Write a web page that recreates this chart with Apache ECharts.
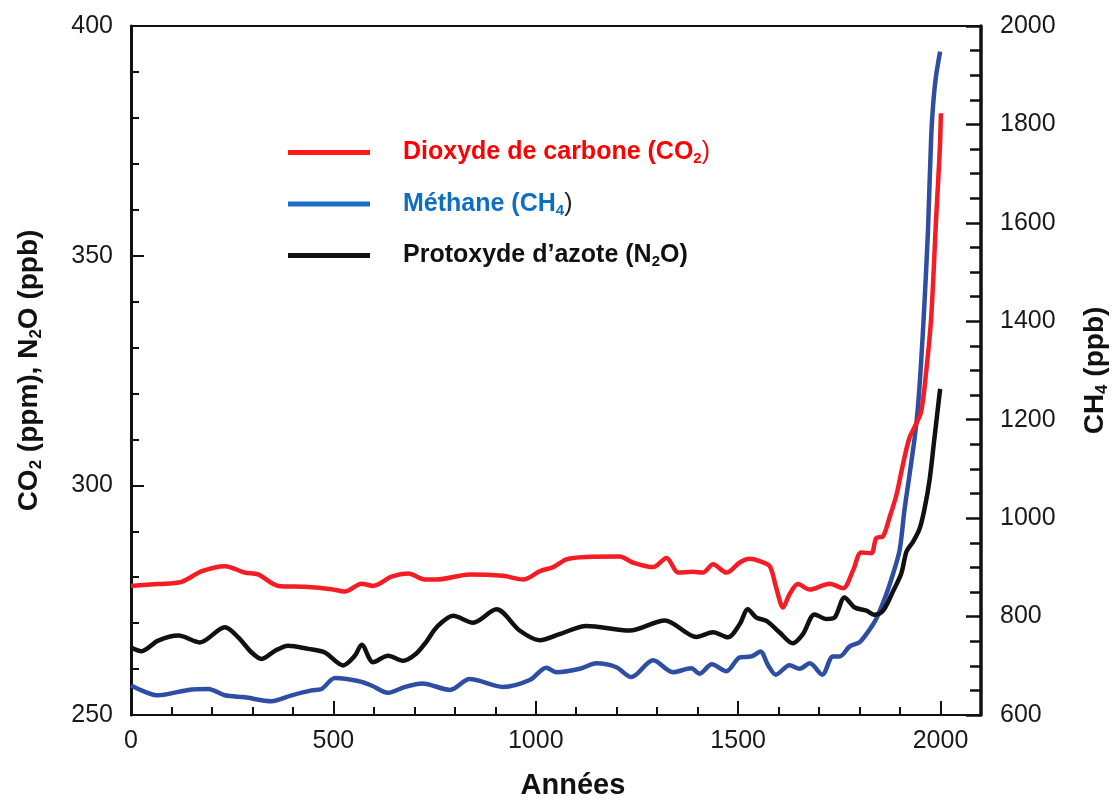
<!DOCTYPE html>
<html>
<head>
<meta charset="utf-8">
<script src="https://cdn.jsdelivr.net/npm/echarts@6/dist/echarts.min.js"></script>
<style>
  html, body { margin: 0; padding: 0; background: #fff; }
  #chart { width: 1119px; height: 805px; }
</style>
</head>
<body>
<div id="chart"></div>
<script>
// CO2 (ppm), left axis
var co2 = [[0,278.1],[67,278.5],[125,279.0],[175,281.3],[232,282.4],[281,281.0],[314,280.6],[364,278.1],[430,277.9],[495,277.4],[528,276.9],[570,278.6],[598,278.1],[644,280.1],[685,280.8],[726,279.5],[755,279.5],[837,280.6],[919,280.3],[969,279.5],[1010,281.3],[1043,282.2],[1076,283.9],[1125,284.4],[1207,284.5],[1240,283.2],[1290,282.2],[1323,284.2],[1352,281.0],[1388,281.2],[1413,281.0],[1438,282.8],[1471,281.0],[1504,283.2],[1528,284.0],[1553,283.5],[1578,282.4],[1594,277.7],[1611,273.4],[1627,276.3],[1648,278.5],[1677,277.3],[1726,278.6],[1759,277.6],[1784,281.5],[1804,285.4],[1829,285.2],[1841,288.5],[1858,288.9],[1874,293.0],[1891,297.9],[1907,304.5],[1923,310.3],[1936,312.7],[1952,316.0],[1965,325.1],[1977,336.6],[1989,357.9],[1998,372.7],[2001,381.0]];

// N2O (ppb), left axis
var n2o = [[0,264.7],[26,263.9],[67,266.2],[117,267.3],[170,265.8],[232,269.1],[265,266.9],[298,263.6],[323,262.2],[356,264.0],[388,265.1],[438,264.4],[479,263.6],[524,260.8],[553,262.9],[570,265.3],[598,261.5],[635,262.9],[672,261.8],[705,263.4],[730,266.0],[755,269.1],[796,271.6],[845,270.1],[903,273.0],[960,268.4],[1010,266.3],[1059,267.6],[1125,269.4],[1232,268.4],[1319,270.6],[1397,267.0],[1438,268.0],[1475,266.9],[1504,269.8],[1524,273.0],[1545,271.2],[1570,270.5],[1602,268.0],[1635,265.6],[1660,267.6],[1689,271.9],[1718,270.9],[1738,271.2],[1763,275.6],[1788,273.4],[1817,272.7],[1837,271.8],[1858,272.7],[1883,277.0],[1903,280.8],[1916,285.6],[1932,287.7],[1948,290.5],[1960,294.7],[1973,301.2],[1985,310.3],[1999,321.0]];

// CH4 (ppb), right axis
var ch4 = [[0,660],[35,647],[67,640],[117,647],[150,652],[191,653],[232,640],[281,636],[347,628],[397,640],[446,650],[471,653],[504,675],[561,669],[594,660],[635,645],[677,657],[720,664],[788,651],[837,673],[919,657],[985,671],[1026,696],[1051,687],[1109,694],[1150,705],[1199,697],[1236,677],[1290,711],[1339,687],[1384,695],[1405,684],[1435,703],[1471,689],[1504,717],[1533,719],[1555,729],[1574,701],[1593,682],[1627,701],[1652,694],[1677,705],[1708,682],[1734,719],[1751,719],[1775,739],[1800,748],[1820,768],[1841,795],[1865,843],[1882,885],[1899,935],[1911,1017],[1923,1086],[1936,1163],[1944,1224],[1952,1316],[1960,1432],[1969,1584],[1977,1776],[1983,1853],[1989,1899],[1999,1948]];

var seriesNames = ['Dioxyde de carbone (CO2)', 'Méthane (CH4)', "Protoxyde d'azote (N2O)"];
var legendLabels = [
  '{g| }{r|Dioxyde de carbone (CO}{rs|2}{rp|)}',
  '{g| }{b|Méthane (CH}{bs|4}{bp|)}',
  '{g| }{k|Protoxyde d\u2019azote (N}{ks|2}{k|O)}'
];

var myChart = echarts.init(document.getElementById('chart'));

var labelFont = { fontFamily: 'Liberation Sans', fontSize: 25, color: '#1a1a1a' };
var plain = function (v) { return String(v); };
var mainTxt = function (c) {
  return { fontFamily: 'Liberation Sans', fontWeight: 'bold', fontSize: 25, color: c, lineHeight: 28 };
};
var subTxt = function (c) {
  return { fontFamily: 'Liberation Sans', fontWeight: 'bold', fontSize: 15, color: c, lineHeight: 14, verticalAlign: 'bottom' };
};
var nameRich = {
  t: { fontFamily: 'Liberation Sans', fontWeight: 'bold', fontSize: 28, color: '#111', lineHeight: 32 },
  s: { fontFamily: 'Liberation Sans', fontWeight: 'bold', fontSize: 17, color: '#111', lineHeight: 16, verticalAlign: 'bottom' }
};

option = {
  animation: false,
  grid: {
    left: 131, right: 138, top: 26, bottom: 87,
    show: true, borderColor: '#111', borderWidth: 2
  },
  legend: {
    orient: 'vertical',
    left: 283,
    top: 135,
    itemWidth: 82,
    itemHeight: 5,
    itemGap: 25,
    icon: 'rect',
    selectedMode: false,
    data: [
      { name: seriesNames[0], itemStyle: { color: '#ff1a1a' } },
      { name: seriesNames[1], itemStyle: { color: '#1a6fc4' } },
      { name: seriesNames[2], itemStyle: { color: '#111111' } }
    ],
    formatter: function (name) {
      return legendLabels[seriesNames.indexOf(name)];
    },
    textStyle: {
      rich: {
        g: { width: 28 },
        r: mainTxt('#ff0000'), rs: subTxt('#ff0000'),
        rp: { fontFamily: 'Liberation Sans', fontSize: 25, color: '#e01010', lineHeight: 28 },
        b: mainTxt('#0e6fc2'), bs: subTxt('#0e6fc2'),
        bp: { fontFamily: 'Liberation Sans', fontSize: 25, color: '#222', lineHeight: 28 },
        k: mainTxt('#111'), ks: subTxt('#111')
      }
    }
  },
  xAxis: [{
    type: 'value',
    min: 0, max: 2100, interval: 500,
    name: 'Années',
    nameLocation: 'middle',
    nameGap: 56,
    nameTextStyle: { fontFamily: 'Liberation Sans', fontWeight: 'bold', fontSize: 29, color: '#111', padding: [0, 0, 0, 34] },
    axisLine: { show: true, lineStyle: { color: '#111', width: 2 } },
    axisTick: { show: true, inside: true, length: 14, lineStyle: { color: '#111', width: 2 } },
    axisLabel: Object.assign({ margin: 14, showMaxLabel: false, formatter: plain }, labelFont),
    splitLine: { show: false }
  }, {
    type: 'value',
    position: 'bottom',
    min: 0, max: 2100, interval: 100,
    axisLine: { show: false },
    axisTick: { show: true, inside: true, length: 8, lineStyle: { color: '#111', width: 2 } },
    axisLabel: { show: false },
    splitLine: { show: false }
  }],
  yAxis: [{
    type: 'value',
    position: 'left',
    min: 250, max: 400, interval: 50,
    name: '{t|CO}{s|2}{t| (ppm), N}{s|2}{t|O (ppb)}',
    nameLocation: 'middle',
    nameGap: 86,
    nameTextStyle: { rich: nameRich },
    axisLine: { show: true, lineStyle: { color: '#111', width: 3 } },
    axisTick: { show: true, inside: true, length: 13, lineStyle: { color: '#111', width: 2 } },
    axisLabel: Object.assign({ margin: 18, formatter: plain }, labelFont),
    splitLine: { show: false }
  }, {
    type: 'value',
    position: 'left',
    min: 250, max: 400, interval: 10,
    axisLine: { show: false },
    axisTick: { show: true, inside: true, length: 8, lineStyle: { color: '#111', width: 2 } },
    axisLabel: { show: false },
    splitLine: { show: false }
  }, {
    type: 'value',
    position: 'right',
    min: 600, max: 2000, interval: 200,
    name: '{t|CH}{s|4}{t| (ppb)}',
    nameLocation: 'middle',
    nameGap: 98,
    nameTextStyle: { rich: nameRich },
    axisLine: { show: true, lineStyle: { color: '#111', width: 3.5 } },
    axisTick: { show: true, inside: true, length: 15, lineStyle: { color: '#111', width: 2.5 } },
    axisLabel: Object.assign({ margin: 19, formatter: plain }, labelFont),
    splitLine: { show: false }
  }, {
    type: 'value',
    position: 'right',
    min: 600, max: 2000, interval: 50,
    axisLine: { show: false },
    axisTick: { show: true, inside: true, length: 11, lineStyle: { color: '#111', width: 2.5 } },
    axisLabel: { show: false },
    splitLine: { show: false }
  }],
  series: [{
    name: seriesNames[1],
    type: 'line',
    yAxisIndex: 2,
    data: ch4,
    smooth: 0.3,
    showSymbol: false,
    lineStyle: { color: '#2d4ea3', width: 4.5 },
    itemStyle: { color: '#2d4ea3' }
  }, {
    name: seriesNames[0],
    type: 'line',
    yAxisIndex: 0,
    data: co2,
    smooth: 0.3,
    showSymbol: false,
    lineStyle: { color: '#f51c24', width: 4.5 },
    itemStyle: { color: '#f51c24' }
  }, {
    name: seriesNames[2],
    type: 'line',
    yAxisIndex: 0,
    data: n2o,
    smooth: 0.3,
    showSymbol: false,
    lineStyle: { color: '#111111', width: 4.5 },
    itemStyle: { color: '#111111' }
  }]
};
myChart.setOption(option);
</script>
</body>
</html>
